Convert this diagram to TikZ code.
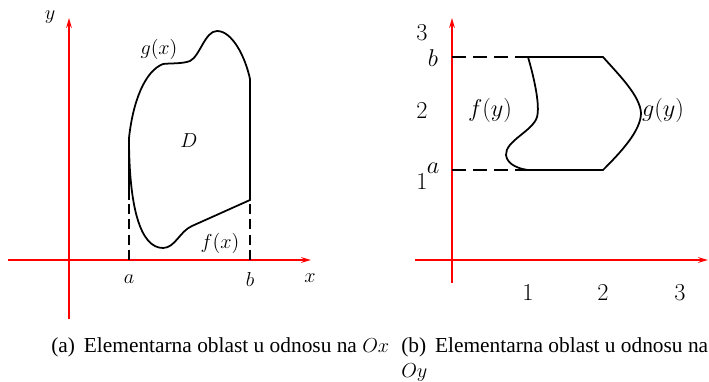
\documentclass[tikz,border=0pt]{standalone}
\usepackage{fontspec}
\newfontfamily\capfont{Liberation Serif}
\usetikzlibrary{arrows.meta}

\begin{document}
\begin{tikzpicture}[x=0.025cm, y=0.025cm, >={Stealth[length=7pt,width=4pt]},
    os/.style={red, line width=1.6pt, ->},
    rub/.style={line width=1.25pt},
    isp/.style={line width=1.1pt, dash pattern=on 7pt off 4pt},
    lab/.style={font=\Large},
    labd/.style={font=\LARGE},
    opis/.style={font=\capfont\fontsize{15.2}{18}\selectfont, anchor=base west, inner sep=0pt}]
  \useasboundingbox (0,0) rectangle (709,381);
  \clip (0,0) rectangle (709,381);
  % (a)
  \draw[os] (8,121) -- (311,121);
  \draw[os] (69,62) -- (69,363);
  \node[lab] (ox) at (310,103) {$x$};
  \node[lab] (oy) at (50,364) {$y$};
  \node[lab] (ta) at (129,102) {$a$};
  \node[lab] (tb) at (250,102) {$b$};
  \draw[isp] (129,121) -- (129,181);
  \draw[isp] (250,121) -- (250,181);
  \draw[rub] (129,243) coordinate[] (A) -- (129,181);
  \draw[rub] (A) .. controls (129,175) and (140,133) .. (163,133)
        .. controls (175,133) and (180,150) .. (192,155)
        -- (250,181) coordinate[] (B)
        -- (250,302) coordinate[] (C)
        .. controls (245,325) and (232,350) .. (217,350)
        .. controls (205,350) and (200,325) .. (190,320)
        .. controls (182,317) and (172,318) .. (163,317)
        .. controls (145,310) and (133,280) .. (A);
  \node[lab] (D) at (189,240) {$D$};
  \node[lab] (gx) at (159,332) {$g(x)$};
  \node[lab] (fx) at (220,138) {$f(x)$};
  % (b)
  \draw[os] (415,121) -- (708,121);
  \draw[os] (452,98) -- (452,363);
  \foreach \i/\px in {1/528, 2/603, 3/680}
    \node[labd] (x\i) at (\px,88) {$\i$};
  \foreach \i/\py in {1/199, 2/270, 3/348}
    \node[labd] (y\i) at (422,\py) {$\i$};
  \node[labd] (yb) at (433,323) {$b$};
  \node[labd] (ya) at (433,213) {$a$};
  \draw[isp, dash pattern=on 10pt off 5pt] (452,324) -- (528,324) coordinate[] (P);
  \draw[isp, dash pattern=on 10pt off 5pt] (452,211) -- (528,211) coordinate[] (Q);
  \draw[rub] (P) -- (603,324) coordinate[] (R)
        .. controls (620,305) and (640,285) .. (641,268)
        .. controls (641,250) and (620,228) .. (603,211) coordinate[] (S)
        -- (Q);
  \draw[rub] (P) .. controls (535,300) and (540,275) .. (537,264)
        .. controls (533,250) and (505,240) .. (506,226)
        .. controls (507,216) and (520,212) .. (Q);
  \node[labd] (fy) at (490,271) {$f(y)$};
  \node[labd] (gy) at (663,271) {$g(y)$};
  % podnaslovi
  \node[opis] (pa) at (51,29) {(a)\, Elementarna oblast u odnosu na $Ox$};
  \node[opis] (pb) at (401,29) {(b)\, Elementarna oblast u odnosu na};
  \node[opis] (pb2) at (401,4) {$Oy$};
\end{tikzpicture}
\end{document}
